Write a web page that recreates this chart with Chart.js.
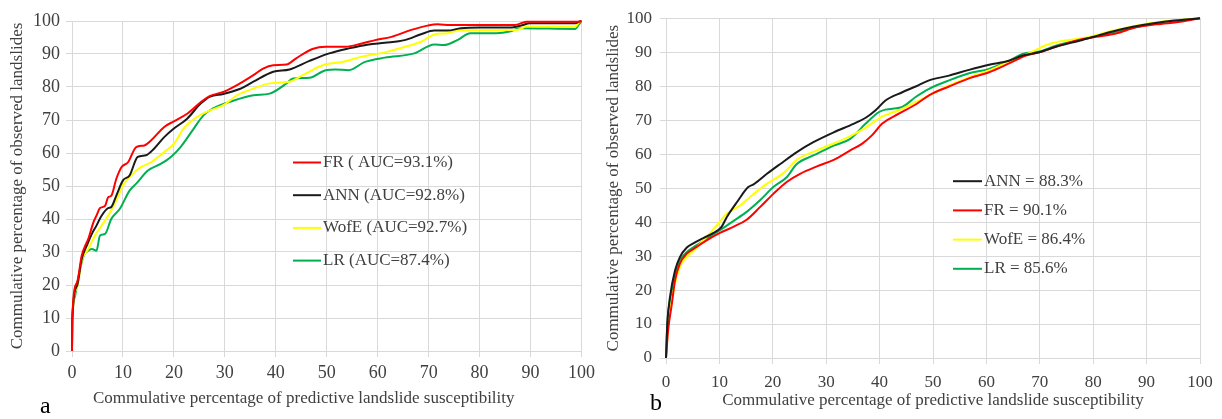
<!DOCTYPE html>
<html>
<head>
<meta charset="utf-8">
<script src="https://cdn.jsdelivr.net/npm/chart.js@4.4.1/dist/chart.umd.min.js"></script>
<style>
  html, body { margin: 0; padding: 0; background: #ffffff; }
  body { width: 1222px; height: 419px; position: relative; overflow: hidden; }
  .wrap { position: absolute; top: 0; height: 419px; }
  .panel-label { position: absolute; font-family: "Liberation Serif", "Times New Roman", serif; font-size: 24px; line-height: 24px; color: #000; }
</style>
</head>
<body>
<div class="wrap" id="wa" style="left:0px;width:600px;"><canvas id="ca" width="600" height="419"></canvas></div>
<div class="wrap" id="wb" style="left:600px;width:622px;"><canvas id="cb" width="622" height="419"></canvas></div>
<div class="panel-label" style="left:40px;top:393px;">a</div>
<div class="panel-label" style="left:650px;top:390px;">b</div>
<script>
// ---------- Panel a data ----------
const aLabels = ['FR ( AUC=93.1%)', 'ANN (AUC=92.8%)', 'WofE (AUC=92.7%)', 'LR (AUC=87.4%)'];
const aFRx = [0, 0.05, 1, 1.9, 2.6, 3.2, 4.2, 4.8, 5.5, 6.5, 7.1, 7.7, 8.7, 9.7, 11, 12.6, 14.2, 15.5, 18.1, 20, 22.6, 25.2, 27.1, 29.7, 32.3, 35.6, 37.5, 39.5, 42.1, 44, 47.2, 49.8, 53.7, 56.9, 59.5, 62.7, 66.6, 69.8, 71.7, 74.3, 82.7, 86.9, 89.2, 99.5, 100];
const aFRy = [0, 10, 20.8, 28.9, 31.9, 34, 39, 41, 43.3, 44, 46.6, 47, 52.2, 55.7, 57.2, 61.8, 62.3, 63.8, 67.9, 69.6, 71.9, 75.3, 77.3, 78.5, 80.5, 83.6, 85.6, 86.6, 86.8, 88.7, 91.5, 92.2, 92.2, 93.2, 94.2, 95.2, 97.3, 98.6, 99, 98.8, 98.8, 98.8, 99.8, 99.8, 100];
const aANNx = [0, 0.05, 1, 1.9, 2.9, 3.9, 4.8, 5.8, 7.1, 7.7, 8.7, 10, 11.3, 12.9, 14.5, 16.1, 18.1, 20, 22.6, 25.2, 27.1, 29.7, 32.9, 35.6, 39.5, 42.7, 46.6, 50.5, 54.3, 58.2, 61.4, 65.3, 68.5, 71.1, 73.7, 76.3, 80.1, 85.9, 88.5, 89.8, 98.8, 99.5, 100];
const aANNy = [0, 9, 19.8, 27.9, 31.9, 35.5, 38, 41, 43.3, 43.6, 47.1, 51.7, 53.2, 58.8, 59.3, 61.3, 64.8, 67.4, 70.4, 74.9, 77.1, 77.9, 79.4, 81.6, 84.6, 85.3, 87.9, 90.2, 91.7, 92.9, 93.4, 94.2, 96, 97.1, 97.1, 97.8, 98, 98, 98.8, 99.3, 99.3, 99.8, 100];
const aWofEx = [0, 0.05, 1, 1.9, 3.2, 4.5, 5.8, 7.1, 8.7, 10, 11.6, 13.5, 15.5, 18.1, 20, 21.9, 24.5, 27.1, 29.7, 32.4, 35.6, 38.8, 42.7, 45.3, 49.2, 53, 56.9, 61.4, 65.9, 68.5, 71.1, 73.7, 76.3, 87.3, 89.2, 98.8, 99.5, 100];
const aWofEy = [0, 9, 19.3, 27.4, 30.9, 35, 38, 41, 45.6, 50.2, 53.2, 55.7, 57.2, 60.3, 62.8, 67.4, 70.9, 72.9, 74.5, 77.5, 79.5, 81.1, 81.6, 83.6, 86.6, 87.6, 89.2, 90.5, 92.4, 93.7, 95.9, 96.3, 97.3, 97.3, 98.3, 98.3, 99.6, 99.8];
const aLRx = [0, 0.1, 0.6, 1.3, 2.3, 3.2, 3.9, 4.8, 5.5, 6.5, 7.7, 9.4, 11.3, 12.6, 14.9, 17.4, 19.4, 21.3, 23.9, 25.8, 27.7, 31, 35.6, 38.8, 42.1, 43.4, 46.6, 49.8, 51.7, 54.3, 57.5, 61.4, 67.2, 71.1, 73, 75.6, 78.2, 83.3, 85.9, 87.9, 98.8, 99.5, 100];
const aLRy = [0, 10.6, 16.7, 22.8, 28.9, 30.4, 30.9, 30.4, 35, 35.5, 40, 43.1, 48.6, 50.7, 54.7, 56.7, 58.8, 61.8, 67.4, 71.4, 73.5, 75.5, 77.5, 78, 81.1, 82.6, 82.8, 85.1, 85.3, 85.1, 87.6, 88.9, 90.2, 92.9, 92.7, 94.2, 96.3, 96.3, 96.8, 97.8, 97.6, 99, 99.8];

// ---------- Panel b data ----------
const bLabels = ['ANN = 88.3%', 'FR = 90.1%', 'WofE = 86.4%', 'LR = 85.6%'];
const bANNx = [0, 0.25, 0.75, 1.7, 2.6, 3.9, 5.1, 7, 8.9, 10.4, 11.4, 13.3, 15.4, 16.4, 18.9, 21.4, 24.5, 27.6, 31.4, 35.1, 37.4, 39.25, 41.1, 44.25, 46.75, 49.25, 53, 56.75, 60.5, 64.25, 66.75, 69.9, 73, 78, 81.75, 85.5, 89.25, 93.6, 100];
const bANNy = [0, 10.2, 18, 25.8, 29.7, 32.5, 33.7, 35.3, 36.8, 38.6, 41.5, 45.9, 50.3, 51.1, 54.2, 57.1, 60.6, 63.5, 66.4, 68.9, 70.7, 72.9, 75.8, 78.2, 79.9, 81.7, 83.1, 84.8, 86.3, 87.5, 89, 90, 91.6, 93.6, 95.3, 96.8, 98, 99, 100];
const bFRx = [0, 0.4, 1.1, 1.7, 2.6, 3.9, 5.75, 7.6, 10.1, 12.6, 15.1, 17.6, 20.1, 22.6, 25.1, 28.25, 31.4, 34.5, 36.75, 38.6, 40.5, 43.6, 46.75, 49.25, 53, 56.75, 60.5, 64.25, 67.4, 70.5, 73, 76.75, 80.5, 84.25, 88, 91.75, 96.75, 100];
const bFRy = [0, 8.2, 16, 22.9, 27.8, 30.7, 32.7, 34.6, 36.8, 38.6, 40.7, 44.4, 48.3, 51.8, 54.2, 56.4, 58.3, 61.1, 63.1, 65.6, 69, 71.9, 74.6, 77.3, 79.9, 82.3, 84.1, 86.7, 89, 90.2, 91.6, 93.4, 94.5, 95.5, 97.3, 98.2, 99, 100];
const bWofEx = [0, 0.4, 1.1, 2, 2.9, 4.2, 5.75, 7.6, 9.5, 11.4, 13.9, 15.75, 18.9, 22, 24.5, 28.25, 32, 34.25, 37.4, 40.5, 43.6, 46.75, 49.9, 53, 56.75, 60.5, 64.25, 68, 71.75, 75.5, 79.25, 83, 88, 93, 100];
const bWofEy = [0, 9.2, 17, 23.9, 27.8, 30.2, 32.5, 35.6, 39, 42.5, 44.9, 47.4, 51.3, 54.4, 58.3, 61.1, 63.5, 65.1, 67.8, 71.1, 72.9, 75.3, 77.8, 80.2, 82.6, 84.6, 87.3, 89.7, 92.4, 93.6, 94.5, 96.1, 97.8, 99, 100];
const bLRx = [0, 0.25, 0.9, 1.7, 2.6, 3.9, 5.75, 7.6, 10.1, 12.6, 15.1, 17.6, 20.1, 22.6, 24.5, 27.6, 31.4, 34.5, 37.4, 39.9, 41.1, 44.25, 46.75, 49.25, 53, 56.75, 60.5, 64.25, 66.75, 69.9, 73, 78, 81.75, 85.5, 89.25, 93.6, 100];
const bLRy = [0, 10.2, 18, 24.9, 28.8, 31.2, 33.2, 35.1, 37.6, 40.3, 43, 46.4, 50.3, 53.2, 57.1, 59.6, 62.5, 64.5, 69, 72.4, 73.1, 73.9, 76.8, 79.2, 81.7, 83.8, 85.1, 87.5, 89.5, 90.2, 91.9, 93.9, 95.1, 96.5, 97.8, 99, 100];

const xTitle = 'Commulative percentage of predictive landslide susceptibility';
const yTitle = 'Commulative percentage of observed landslides';

const COL = { FR: '#ff0000', ANN: '#1a1a1a', WofE: '#ffff00', LR: '#00b050' };
const SERIF = '"Liberation Serif", "Times New Roman", serif';
const GRID = '#d9d9d9';

function pts(xs, ys) { return xs.map((x, i) => ({ x: x, y: ys[i] })); }
function ds(label, xs, ys, color) {
  return { label: label, data: pts(xs, ys), borderColor: color, backgroundColor: color,
           borderWidth: 2, pointRadius: 0, fill: false, cubicInterpolationMode: 'monotone', clip: 4 };
}

// custom inline legend + shifted x-axis title
const inLegend = {
  id: 'inLegend',
  afterDatasetsDraw(chart, args, opts) {
    const ctx = chart.ctx, ca = chart.chartArea;
    ctx.save();
    ctx.font = opts.font;
    ctx.textBaseline = 'middle';
    ctx.textAlign = 'left';
    chart.data.datasets.forEach((d, i) => {
      const y = ca.top + opts.y + i * opts.gap;
      const x = ca.left + opts.x;
      ctx.strokeStyle = d.borderColor;
      ctx.lineWidth = 2;
      ctx.beginPath(); ctx.moveTo(x, y); ctx.lineTo(x + opts.len, y); ctx.stroke();
      ctx.fillStyle = '#404040';
      ctx.fillText(d.label, x + opts.len + 2, y);
    });
    // x-axis title
    ctx.font = '17px ' + SERIF;
    ctx.textAlign = 'center';
    ctx.fillStyle = '#404040';
    ctx.fillText(opts.xTitle, (ca.left + ca.right) / 2 + opts.xTitleDx, opts.xTitleY);
    ctx.restore();
  }
};

function makeOpts(cfg) {
  return {
    responsive: false, animation: false, maintainAspectRatio: false,
    layout: { padding: { top: cfg.top, right: cfg.right, left: 0, bottom: 0 } },
    plugins: { legend: { display: false }, tooltip: { enabled: false },
               inLegend: cfg.legend },
    scales: {
      x: {
        type: 'linear', min: 0, max: 100,
        ticks: { stepSize: 10, color: '#404040', padding: cfg.xtpad, font: { family: SERIF, size: cfg.tick } },
        grid: { color: GRID, lineWidth: 1, tickLength: 6 },
        border: { color: GRID },
        title: { display: false },
        afterFit(s) { s.height = cfg.xh; }
      },
      y: {
        type: 'linear', min: 0, max: 100,
        ticks: { stepSize: 10, color: '#404040', padding: cfg.ytpad, font: { family: SERIF, size: cfg.tick } },
        grid: { color: GRID, lineWidth: 1, tickLength: 6 },
        border: { color: GRID },
        title: { display: true, text: yTitle, color: '#404040', font: { family: SERIF, size: 17 }, padding: { top: cfg.ytitlePad, bottom: 0 } },
        afterFit(s) { s.width = cfg.yw; }
      }
    }
  };
}

new Chart(document.getElementById('ca'), {
  type: 'line',
  data: { datasets: [
    ds(aLabels[0], aFRx, aFRy, COL.FR),
    ds(aLabels[1], aANNx, aANNy, COL.ANN),
    ds(aLabels[2], aWofEx, aWofEy, COL.WofE),
    ds(aLabels[3], aLRx, aLRy, COL.LR)
  ] },
  options: makeOpts({ top: 21, right: 12, xh: 68, yw: 72, tick: 18, xtpad: 5, ytpad: 6, ytitlePad: 7,
                      legend: { x: 221, y: 141.5, gap: 32.7, len: 28, font: '17px ' + SERIF,
                                xTitle: xTitle, xTitleDx: -23, xTitleY: 399 } }),
  plugins: [inLegend]
});

new Chart(document.getElementById('cb'), {
  type: 'line',
  data: { datasets: [
    ds(bLabels[0], bANNx, bANNy, COL.ANN),
    ds(bLabels[1], bFRx, bFRy, COL.FR),
    ds(bLabels[2], bWofEx, bWofEy, COL.WofE),
    ds(bLabels[3], bLRx, bLRy, COL.LR)
  ] },
  options: makeOpts({ top: 17, right: 22, xh: 61, yw: 66, tick: 17, xtpad: 8, ytpad: 8, ytitlePad: 3,
                      legend: { x: 287, y: 163, gap: 29.2, len: 29, font: '17px ' + SERIF,
                                xTitle: xTitle, xTitleDx: 0, xTitleY: 401 } }),
  plugins: [inLegend]
});
</script>
</body>
</html>
